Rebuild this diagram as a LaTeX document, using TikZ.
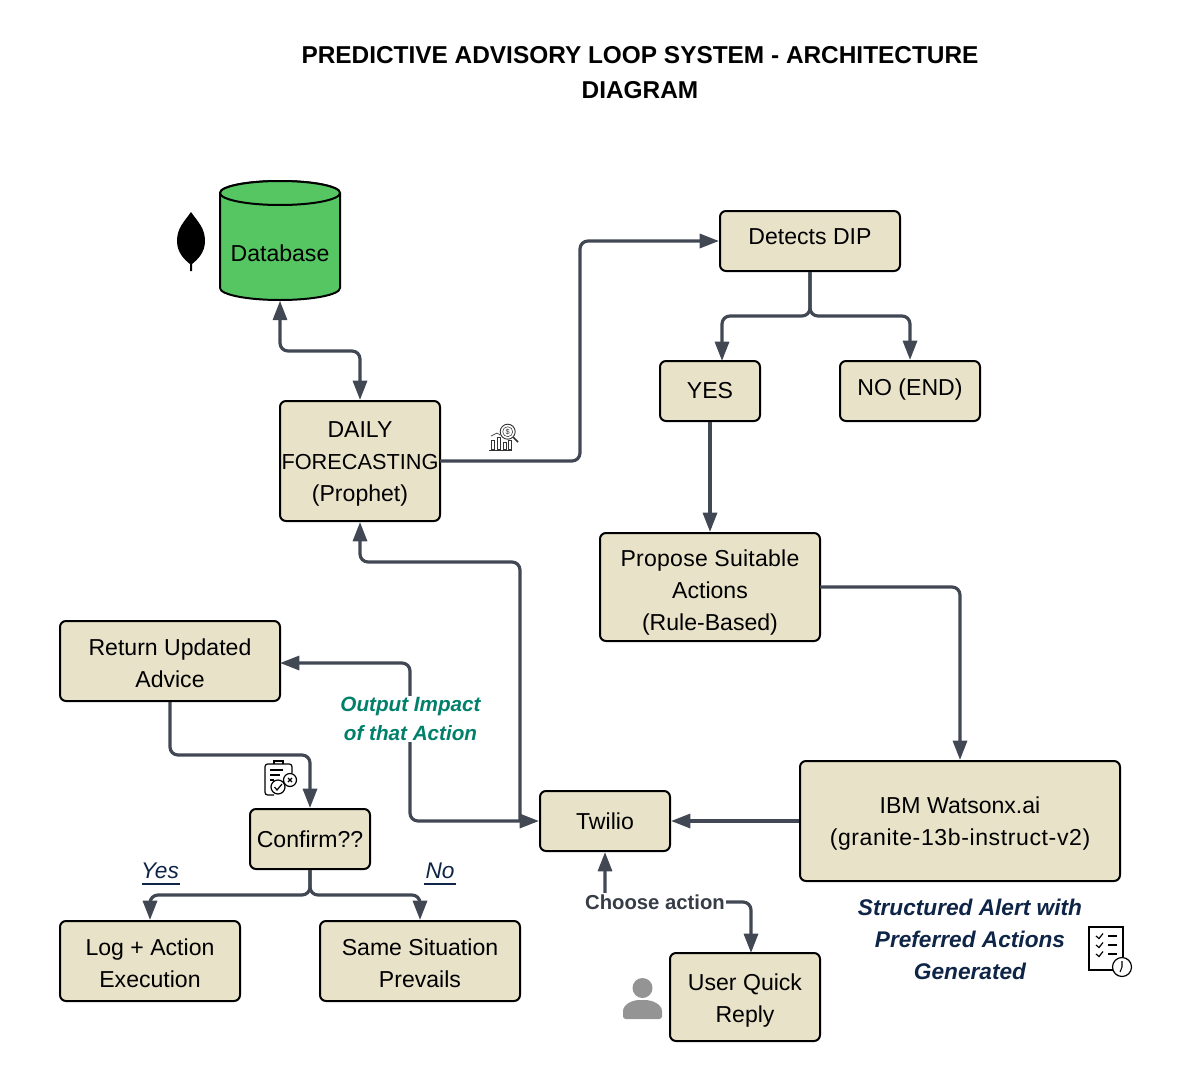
\documentclass[tikz,border=0pt]{standalone}
\usepackage{fontspec}
\setmainfont{Liberation Sans}
\usetikzlibrary{arrows.meta,calc}
\definecolor{boxfill}{HTML}{E8E2C9}
\definecolor{linecol}{HTML}{414854}
\definecolor{navy}{HTML}{0F2547}
\definecolor{tealc}{HTML}{00806B}
\definecolor{dbgreen}{HTML}{55C662}
\definecolor{persongray}{HTML}{949494}
\tikzset{
  x=0.75pt,y=-0.75pt,
  boxn/.style={draw=black,fill=boxfill,line width=1.5pt,rounded corners=4.5pt,inner sep=0pt},
  boxt/.style={align=center,inner sep=0pt,font=\fontsize{17.3}{24}\selectfont,text=black},
  conn/.style={draw=linecol,line width=2.4pt,rounded corners=6pt,-{Triangle[length=14.5pt,width=10.5pt]}},
  connb/.style={conn,{Triangle[length=14.5pt,width=10.5pt]}-{Triangle[length=14.5pt,width=10.5pt]}},
  titlet/.style={font=\bfseries\fontsize{18.3}{26.3}\selectfont,align=center,text=black},
  navyt/.style={font=\bfseries\itshape\fontsize{17}{24}\selectfont,align=center,text=navy},
  tealt/.style={font=\bfseries\itshape\fontsize{15.5}{21.7}\selectfont,align=center,text=tealc,fill=white,inner sep=1pt},
  choice/.style={font=\itshape\fontsize{17}{20}\selectfont,text=navy,inner sep=1pt},
  ul/.style={draw=navy,line width=0.8pt},
  actl/.style={font=\bfseries\fontsize{15.2}{18}\selectfont,text=linecol!85!black,fill=white,inner sep=1pt},
}
% name, x, y, width, height, text shift, text
\newcommand{\bx}[7]{\node[boxn,minimum width=#4*0.75pt,minimum height=#5*0.75pt] (#1) at (#2,#3) {};
  \node[boxt] (#1-t) at (#2,#3+#6) {#7};}
\begin{document}
\begin{tikzpicture}
\useasboundingbox (0,0) rectangle (1180,1081);
\node[titlet] (title) at (640,72.5) {PREDICTIVE ADVISORY LOOP SYSTEM - ARCHITECTURE\\DIAGRAM};

% database cylinder
\draw[black,line width=1.5pt,fill=dbgreen] (220,193) -- (220,288) arc[start angle=180,end angle=360,x radius=60,y radius=-12] -- (340,193) arc[start angle=0,end angle=180,x radius=60,y radius=-12] -- cycle;
\draw[black,line width=1.5pt,fill=dbgreen] (280,193) ellipse[x radius=60,y radius=12];
\node[minimum width=90pt,minimum height=90pt,inner sep=0pt] (db) at (280,240.5) {};
\node[font=\fontsize{17.3}{24}\selectfont,inner sep=0pt] (dbl) at (280,253) {Database};

% leaf
\fill[black] (191,212) .. controls (198,222) and (205,228) .. (205,241) .. controls (205,253) and (197,260) .. (192,264) -- (192,271) -- (190,271) -- (190,264) .. controls (185,260) and (177,253) .. (177,241) .. controls (177,228) and (184,222) .. (191,212) -- cycle;

\bx{dip}{810}{241}{180}{60}{-4}{Detects DIP}
\bx{yes}{710}{391}{100}{60}{0}{YES}
\bx{no}{910}{391}{140}{60}{-1}{NO (END)}
\bx{fc}{360}{461}{160}{120}{3}{DAILY\\{\fontsize{16.3}{24}\selectfont FORECASTING}\\(Prophet)}
\bx{prop}{710}{587}{220}{108}{6}{{\addfontfeature{LetterSpace=1}Propose Suitable}\\Actions\\(Rule-Based)}
\bx{ret}{170}{661}{220}{80}{2}{Return Updated\\Advice}
\bx{conf}{310}{839}{120}{60}{0}{Confirm??}
\bx{tw}{605}{821}{130}{60}{0}{Twilio}
\bx{ibm}{960}{821}{320}{120}{3}{IBM Watsonx.ai\\{\addfontfeature{LetterSpace=2.6}(granite-13b-instruct-v2)}}
\bx{log}{150}{961}{180}{80}{2}{Log + Action\\Execution}
\bx{same}{420}{961}{200}{80}{2}{Same Situation\\Prevails}
\bx{user}{745}{997}{150}{88}{4}{User Quick\\Reply}

% free ends of connectors
\coordinate (yesin) at (722,361);
\coordinate (tl) at (520,821);
\coordinate (pr) at (820,587);
\coordinate (fr) at (440,461);
\coordinate (uin) at (751,953);
\coordinate (rin) at (280,663);

% connectors
\draw[connb] (db.south) -- (280,351) -- (360,351) -- (fc.north);
\draw[conn] (fr) -- (580,461) -- (580,241) -- (dip.west);
\draw[conn] (dip.south) -- (810,316) -- (722,316) -- (yesin);
\draw[conn] (dip.south) -- (810,316) -- (910,316) -- (no.north);
\draw[conn] (yes.south) -- (prop.north);
\draw[conn] (pr) -- (960,587) -- (ibm.north);
\draw[conn] (ibm.west) -- (tw.east);
\draw[connb] (tw.west) -- (410,821) -- (410,663) -- (rin);
\draw[conn] (tl) -- (520,562) -- (360,562) -- (fc.south);
\draw[conn] (ret.south) -- (170,755) -- (310,755) -- (conf.north);
\draw[conn] (conf.south) -- (310,895) -- (150,895) -- (log.north);
\draw[conn] (conf.south) -- (310,895) -- (420,895) -- (same.north);
\draw[connb] (tw.south) -- (605,902) -- (751,902) -- (uin);

% labels
\node[tealt] (outl) at (410.5,719) {Output Impact\\of that Action};
\node[actl] (act) at (655,902) {Choose action};
\node[choice] (yesl) at (160,871) {Yes};
\draw[ul] (142,884) -- (180,884);
\node[choice] (nol) at (440,871) {No};
\draw[ul] (424,884) -- (456,884);
\node[navyt] (alert) at (970,939.5) {Structured Alert with\\Preferred Actions\\Generated};

% person icon
\fill[persongray] (642.5,988) circle[radius=10];
\fill[persongray,rounded corners=2pt] (623,1019) -- (623,1014) .. controls (623,1004) and (633,1000) .. (642,1000) .. controls (652,1000) and (662,1004) .. (662,1014) -- (662,1019) -- cycle;

% checklist icon
\draw[black,line width=0.9pt] (1123,957) -- (1123,927) -- (1089,927) -- (1089,970) -- (1113,970);
\draw[black,line width=0.9pt] (1122,967) circle[radius=9.5];
\draw[black,line width=0.8pt] (1122,961) -- (1122,967) -- (1120,972);
\foreach \yy in {936,945,954}{
  \draw[black,line width=0.9pt] (1096,\yy) -- (1099,\yy+2.5) -- (1103,\yy-2.5);
  \draw[black,line width=0.9pt] (1108,\yy) -- (1117,\yy);
}

% clipboard icon
\draw[black,line width=0.9pt,rounded corners=2pt] (274,795) -- (265,795) -- (265,764) -- (292,764) -- (292,773);
\draw[black,line width=0.9pt] (274,764) -- (274,761) -- (283,761) -- (283,764);
\draw[black,line width=0.9pt] (270,770) -- (283,770) (270,775) -- (280,775) (270,780) -- (274,780);
\draw[black,line width=0.9pt] (278,787) circle[radius=7];
\draw[black,line width=0.9pt] (274.5,787) -- (277,790) -- (282,784);
\draw[black,line width=0.9pt,fill=white] (290,780) circle[radius=6.5];
\draw[black,line width=0.9pt] (288,778) -- (292,782) (292,778) -- (288,782);

% chart icon
\draw[black!80,line width=0.5pt] (489,450.5) -- (512,450.5);
\draw[black!80,line width=0.5pt] (491,449) rectangle (494,440) (497,449) rectangle (500,437) (503,449) rectangle (506,442) (508,449) rectangle (511,440);
\draw[black!80,line width=0.5pt] (491,436) -- (497,433) -- (500,435);
\draw[black!80,line width=0.7pt,fill=white] (507.7,431.7) circle[radius=7.5];
\draw[black!80,line width=0.4pt] (507.7,431.7) circle[radius=5];
\node[font=\fontsize{5.5}{6}\selectfont,inner sep=0pt,text=black!80] (dollar) at (507.7,431.7) {\$};
\draw[black!80,line width=1.2pt] (513,437) -- (518,442);
\end{tikzpicture}
\end{document}
